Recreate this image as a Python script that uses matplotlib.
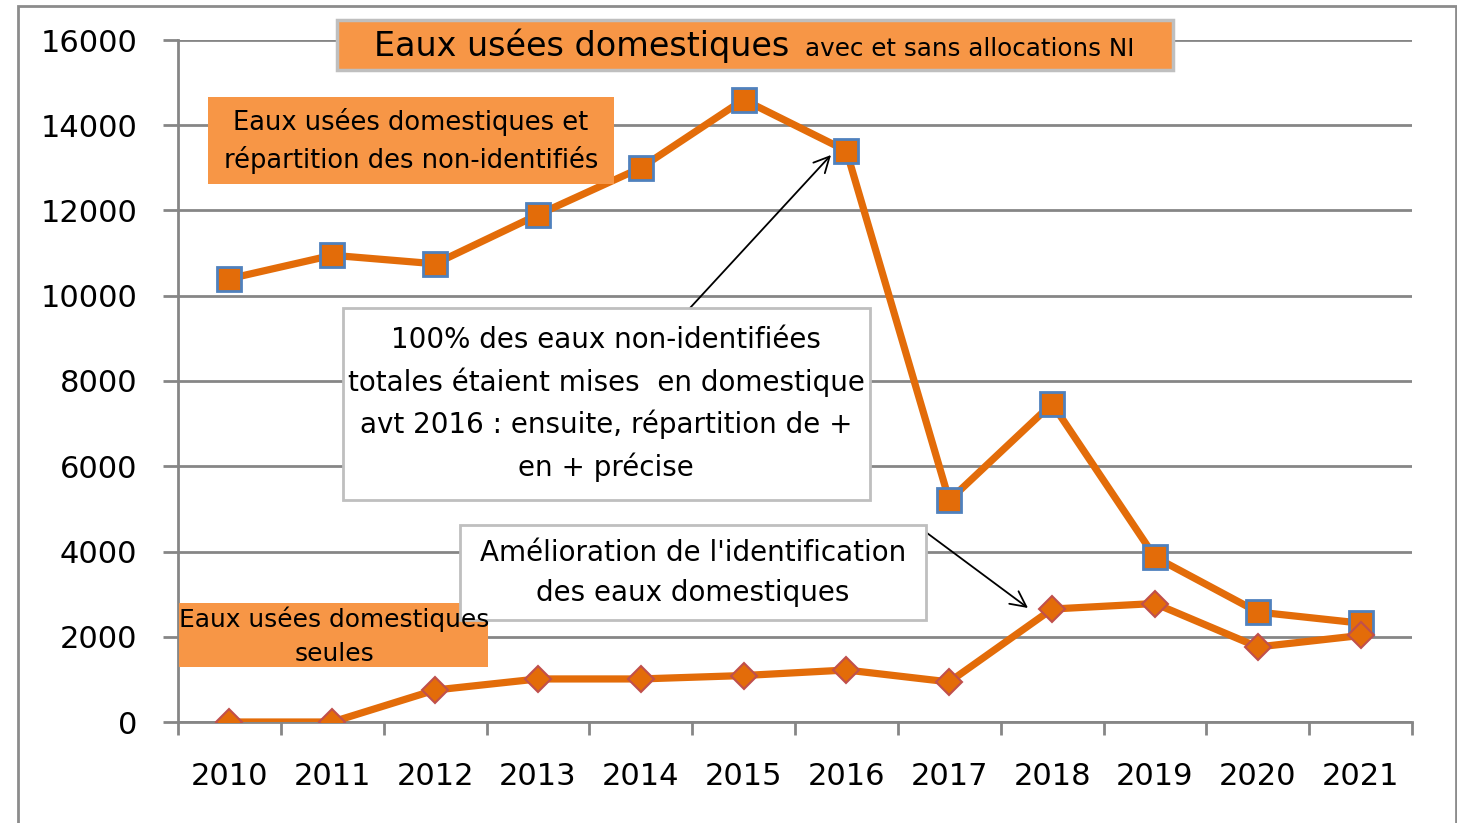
import numpy as np
import matplotlib
matplotlib.use('Agg')
import matplotlib.pyplot as plt
from matplotlib.patches import Rectangle

# data
years = ['2010', '2011', '2012', '2013', '2014', '2015',
         '2016', '2017', '2018', '2019', '2020', '2021']
avec_ni = [10400, 10950, 10750, 11900, 13000, 14600,
           13400, 5200, 7470, 3870, 2580, 2320]
seules = [0, 0, 750, 1010, 1010, 1090, 1220, 940, 2650, 2780, 1760, 2030]
yticks = [0, 2000, 4000, 6000, 8000, 10000, 12000, 14000, 16000]

W, H = 1457, 823
grey = '#868686'
orange_box = '#F79646'
orange_line = '#E36C09'


def fx(px):
    return px / W


def fy(py):
    return 1 - py / H


def box(x0, y0, x1, y1, fc, ec=None, lw=0):
    r = Rectangle((fx(x0), fy(y1)), fx(x1) - fx(x0), fy(y0) - fy(y1),
                  transform=fig.transFigure, facecolor=fc,
                  edgecolor=ec if ec else 'none', linewidth=lw, zorder=5)
    fig.add_artist(r)


fig = plt.figure(figsize=(W / 100, H / 100), dpi=100)
ax = fig.add_axes([fx(178), fy(722), fx(1412) - fx(178), fy(40) - fy(722)])

x = np.arange(len(years))
ax.plot(x, avec_ni, color=orange_line, lw=5.2, marker='s', ms=17,
        mfc=orange_line, mec='#4F81BD', mew=2, zorder=4)
ax.plot(x, seules, color=orange_line, lw=5.2, marker='D', ms=13,
        mfc=orange_line, mec='#C0504D', mew=1.5, zorder=4)

ax.set_xlim(-0.5, 11.5)
ax.set_ylim(0, 16000)
ax.set_yticks(yticks)
ax.set_xticks(x, years)
ax.set_xticks(np.arange(-0.5, 12, 1), minor=True)
ax.yaxis.grid(True, color=grey, lw=2)
ax.set_axisbelow(True)
for s in ['top', 'right']:
    ax.spines[s].set_visible(False)
for s in ['left', 'bottom']:
    ax.spines[s].set_color(grey)
    ax.spines[s].set_linewidth(2)
ax.tick_params(axis='y', length=10.8, width=2, color=grey, pad=18.5,
               labelsize=22)
ax.tick_params(axis='x', which='major', length=0, pad=28.5, labelsize=22)
ax.tick_params(axis='x', which='minor', length=9, width=2, color=grey)

# outer frame
fig.add_artist(Rectangle((fx(18), fy(840)), fx(1456) - fx(18), fy(6) - fy(840),
                         transform=fig.transFigure, fill=False,
                         edgecolor='#8C8C8C', linewidth=2))

# title
box(337, 20, 1173, 70, orange_box, '#BFBFBF', 2.5)
fig.text(fx(374), fy(56), 'Eaux usées domestiques', fontsize=24,
         va='baseline', ha='left', zorder=6)
fig.text(fx(805), fy(56), 'avec et sans allocations NI', fontsize=17.7,
         va='baseline', ha='left', zorder=6)

# series labels
box(208, 97, 614, 184, orange_box)
fig.text(fx(411), fy(141), 'Eaux usées domestiques et\nrépartition des non-identifiés',
         fontsize=18.5, ha='center', va='center', linespacing=1.45, zorder=6)
box(179, 603, 488, 667, orange_box)
fig.text(fx(334), fy(636), 'Eaux usées domestiques\nseules',
         fontsize=17.9, ha='center', va='center', linespacing=1.55, zorder=6)

# comments with arrows
box(343, 308, 870, 500, 'white', '#BFBFBF', 2)
fig.text(fx(606), fy(404),
         '100% des eaux non-identifiées\ntotales étaient mises  en domestique\n'
         'avt 2016 : ensuite, répartition de +\nen + précise',
         fontsize=20, ha='center', va='center', linespacing=1.55, zorder=6)
box(460, 525, 926, 620, 'white', '#BFBFBF', 2)
fig.text(fx(693), fy(573), "Amélioration de l'identification\ndes eaux domestiques",
         fontsize=20, ha='center', va='center', linespacing=1.55, zorder=6)

arrow = dict(arrowstyle='->', color='black', lw=1.3, mutation_scale=28,
             shrinkA=0, shrinkB=0)
ax.annotate('', xy=(fx(831), fy(155)), xycoords='figure fraction',
            xytext=(fx(690), fy(308)), textcoords='figure fraction',
            arrowprops=arrow, zorder=7)
ax.annotate('', xy=(fx(1028), fy(608)), xycoords='figure fraction',
            xytext=(fx(927), fy(533)), textcoords='figure fraction',
            arrowprops=arrow, zorder=7)

fig.savefig('out.png', dpi=100)
